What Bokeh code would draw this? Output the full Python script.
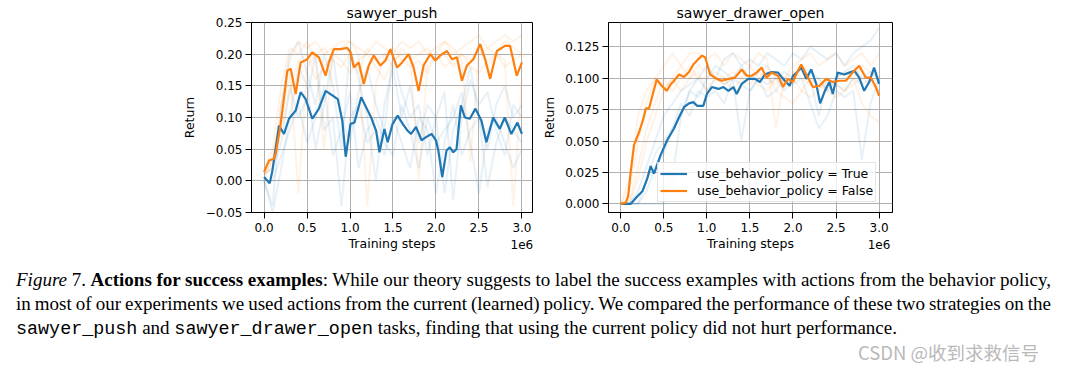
from bokeh.plotting import figure
from bokeh.models import (Legend, LegendItem, CustomJSTickFormatter,
                          FixedTicker, Range1d, Div)
from bokeh.layouts import row, column
from bokeh.embed import file_html
from bokeh.resources import INLINE

# ---------------- data (x in millions of training steps) ----------------
x_ticks = [0.0, 0.5, 1.0, 1.5, 2.0, 2.5, 3.0]
x_offset_text = "1e6"
push_yticks = [-0.05, 0.0, 0.05, 0.10, 0.15, 0.20, 0.25]
drawer_yticks = [0.0, 0.025, 0.05, 0.075, 0.10, 0.125]

push_true_x = [0.0, 0.066, 0.097, 0.174, 0.232, 0.29, 0.368, 0.426, 0.484, 0.561, 0.638, 0.716,
               0.794, 0.858, 0.91, 0.95, 1.006, 1.052, 1.13, 1.188, 1.246, 1.304, 1.342, 1.40,
               1.438, 1.496, 1.554, 1.613, 1.671, 1.71, 1.768, 1.833, 1.884, 1.949, 2.0, 2.027,
               2.073, 2.123, 2.162, 2.201, 2.239, 2.29, 2.336, 2.394, 2.459, 2.529, 2.587, 2.665,
               2.742, 2.80, 2.877, 2.947, 3.0]
push_true_y = [0.006, -0.004, 0.016, 0.087, 0.074, 0.098, 0.111, 0.140, 0.129, 0.098, 0.114, 0.142,
               0.135, 0.129, 0.095, 0.038, 0.090, 0.092, 0.132, 0.116, 0.100, 0.079, 0.045, 0.082,
               0.061, 0.090, 0.103, 0.090, 0.079, 0.074, 0.085, 0.064, 0.069, 0.074, 0.064, 0.048,
               0.006, 0.048, 0.053, 0.045, 0.050, 0.119, 0.100, 0.098, 0.114, 0.095, 0.061, 0.100,
               0.082, 0.100, 0.074, 0.092, 0.074]

push_false_x = [0.0, 0.058, 0.116, 0.136, 0.194, 0.271, 0.31, 0.368, 0.426, 0.503, 0.561, 0.638,
                0.716, 0.754, 0.812, 0.89, 0.967, 1.006, 1.044, 1.102, 1.16, 1.218, 1.276, 1.354,
                1.412, 1.47, 1.548, 1.606, 1.682, 1.74, 1.798, 1.856, 1.934, 1.992, 2.05, 2.128,
                2.186, 2.244, 2.302, 2.36, 2.436, 2.514, 2.572, 2.63, 2.708, 2.804, 2.862, 2.94, 3.0]
push_false_y = [0.014, 0.032, 0.035, 0.043, 0.090, 0.174, 0.177, 0.137, 0.187, 0.192, 0.203, 0.195,
                0.166, 0.187, 0.208, 0.208, 0.210, 0.203, 0.179, 0.187, 0.153, 0.182, 0.198, 0.182,
                0.190, 0.208, 0.179, 0.187, 0.200, 0.179, 0.142, 0.182, 0.200, 0.190, 0.198, 0.205,
                0.192, 0.195, 0.158, 0.182, 0.192, 0.216, 0.192, 0.161, 0.205, 0.213, 0.213, 0.166,
                0.187]

drawer_true_x = [0.0, 0.116, 0.193, 0.251, 0.309, 0.347, 0.386, 0.463, 0.541, 0.618, 0.676, 0.734,
                 0.792, 0.842, 0.888, 0.958, 1.0, 1.058, 1.135, 1.192, 1.25, 1.308, 1.346, 1.404,
                 1.481, 1.558, 1.615, 1.673, 1.75, 1.827, 1.904, 1.962, 2.0, 2.05, 2.096, 2.154,
                 2.212, 2.27, 2.315, 2.365, 2.423, 2.462, 2.519, 2.596, 2.654, 2.712, 2.769, 2.827,
                 2.885, 2.942, 3.0]
drawer_true_y = [0.0, 0.0, 0.006, 0.010, 0.0205, 0.030, 0.024, 0.039, 0.051, 0.060, 0.069, 0.077,
                 0.080, 0.081, 0.078, 0.078, 0.0875, 0.093, 0.0915, 0.093, 0.090, 0.093, 0.0875, 0.0955,
                 0.0995, 0.0995, 0.097, 0.103, 0.105, 0.1045, 0.098, 0.094, 0.102, 0.105, 0.1085, 0.0995,
                 0.107, 0.0955, 0.080, 0.089, 0.097, 0.0875, 0.1045, 0.103, 0.1045, 0.106, 0.1005, 0.090,
                 0.097, 0.1085, 0.0955]

drawer_false_x = [0.0, 0.058, 0.085, 0.116, 0.154, 0.212, 0.263, 0.29, 0.328, 0.367, 0.417, 0.463,
                  0.533, 0.579, 0.618, 0.676, 0.734, 0.792, 0.842, 0.896, 0.945, 0.981, 1.038, 1.115,
                  1.173, 1.25, 1.327, 1.404, 1.462, 1.519, 1.577, 1.635, 1.692, 1.75, 1.827, 1.885,
                  1.942, 2.0, 2.05, 2.096, 2.154, 2.231, 2.308, 2.385, 2.462, 2.538, 2.615, 2.692,
                  2.769, 2.846, 2.904, 2.962, 3.0]
drawer_false_y = [0.0, 0.001, 0.006, 0.026, 0.047, 0.057, 0.068, 0.076, 0.076, 0.086, 0.099, 0.095,
                  0.090, 0.095, 0.098, 0.103, 0.101, 0.105, 0.111, 0.115, 0.118, 0.1165, 0.103, 0.0995,
                  0.098, 0.0995, 0.1005, 0.107, 0.102, 0.102, 0.1045, 0.1085, 0.1005, 0.1045, 0.102, 0.093,
                  0.0995, 0.097, 0.105, 0.111, 0.103, 0.093, 0.094, 0.0995, 0.097, 0.098, 0.098, 0.1045,
                  0.110, 0.1005, 0.1005, 0.093, 0.086]

# individual seeds (faint), sampled every 0.1M steps
seed_x = [0.0, 0.1, 0.2, 0.3, 0.4, 0.5, 0.6, 0.7, 0.8, 0.9, 1.0, 1.1, 1.2, 1.3, 1.4, 1.5,
          1.6, 1.7, 1.8, 1.9, 2.0, 2.1, 2.2, 2.3, 2.4, 2.5, 2.6, 2.7, 2.8, 2.9, 3.0]
push_false_seeds = [
    [0.01, 0.03, 0.12, 0.19, 0.22, 0.21, 0.22, 0.20, 0.21, 0.22, 0.22, 0.21, 0.20, 0.22, 0.21, 0.20,
     0.22, 0.21, 0.22, 0.20, 0.21, 0.22, 0.20, 0.21, 0.22, 0.23, 0.21, 0.22, 0.23, 0.22, 0.23],
    [0.02, 0.05, 0.15, 0.21, 0.20, 0.22, 0.19, 0.05, 0.20, 0.21, 0.22, 0.20, -0.04, 0.15, 0.20, 0.21,
     0.19, 0.20, 0.00, 0.18, 0.20, 0.22, 0.21, 0.19, 0.03, 0.20, 0.21, 0.20, 0.22, 0.21, 0.20],
    [0.00, 0.04, 0.10, 0.17, -0.02, 0.18, 0.20, 0.21, 0.19, 0.18, 0.20, 0.17, 0.21, 0.19, 0.20, 0.18,
     0.21, 0.19, 0.20, 0.21, 0.19, 0.20, 0.18, 0.20, 0.19, 0.21, 0.18, 0.20, 0.19, -0.04, 0.16],
    [0.01, 0.02, 0.08, 0.14, 0.19, 0.20, 0.16, 0.18, 0.20, 0.19, 0.17, 0.19, 0.20, 0.18, 0.16, 0.19,
     0.20, 0.18, 0.19, 0.17, 0.20, 0.18, 0.19, 0.20, 0.18, 0.17, 0.19, 0.20, 0.18, 0.19, 0.20],
]
push_true_seeds = [
    [0.00, -0.04, 0.12, 0.20, 0.22, 0.17, 0.12, 0.20, 0.15, 0.05, 0.21, 0.16, 0.10, 0.00, 0.12, 0.18,
     0.10, 0.15, 0.06, 0.12, 0.10, -0.02, 0.08, 0.12, 0.18, 0.10, 0.05, 0.12, 0.15, 0.10, 0.12],
    [0.01, 0.02, 0.06, 0.15, 0.10, 0.13, 0.20, 0.08, 0.10, -0.04, 0.10, 0.12, 0.06, 0.08, 0.04, 0.10,
     0.06, 0.02, 0.10, 0.08, -0.02, 0.06, 0.12, 0.04, 0.08, 0.10, -0.01, 0.06, 0.10, 0.08, 0.06],
    [0.00, -0.05, 0.02, 0.10, 0.18, 0.15, 0.05, 0.12, 0.20, 0.10, 0.06, 0.14, 0.18, 0.12, 0.08, 0.20,
     0.14, 0.10, 0.12, 0.04, 0.10, 0.14, -0.03, 0.10, 0.16, 0.12, 0.14, 0.08, 0.04, 0.12, 0.10],
    [0.00, 0.00, 0.04, 0.08, 0.12, 0.06, 0.10, 0.15, 0.04, 0.08, 0.14, 0.02, 0.08, 0.10, 0.06, 0.04,
     0.12, 0.08, 0.02, 0.10, 0.06, 0.08, 0.10, 0.14, 0.06, -0.02, 0.08, 0.10, 0.06, 0.02, 0.05],
]
drawer_false_seeds = [
    [0.0, 0.01, 0.05, 0.08, 0.10, 0.11, 0.12, 0.11, 0.12, 0.12, 0.115, 0.12, 0.11, 0.12, 0.115, 0.11,
     0.12, 0.115, 0.06, 0.10, 0.11, 0.115, 0.12, 0.11, 0.115, 0.12, 0.11, 0.115, 0.12, 0.11, 0.12],
    [0.0, 0.02, 0.07, 0.09, 0.10, 0.09, 0.10, 0.11, 0.10, 0.105, 0.09, 0.10, 0.095, 0.10, 0.105, 0.10,
     0.095, 0.09, 0.10, 0.095, 0.10, 0.09, 0.085, 0.09, 0.10, 0.095, 0.09, 0.10, 0.08, 0.07, 0.065],
    [0.0, 0.0, 0.03, 0.06, 0.08, 0.10, 0.09, 0.10, 0.11, 0.10, 0.10, 0.105, 0.10, 0.09, 0.10, 0.095,
     0.105, 0.10, 0.095, 0.10, 0.105, 0.10, 0.095, 0.10, 0.09, 0.10, 0.105, 0.10, 0.11, 0.105, 0.10],
    [0.0, 0.0, 0.02, 0.05, 0.07, 0.09, 0.10, 0.09, 0.10, 0.11, 0.105, 0.10, 0.10, 0.105, 0.10, 0.11,
     0.10, 0.105, 0.09, 0.085, 0.08, 0.09, 0.10, 0.095, 0.09, 0.085, 0.09, 0.095, 0.10, 0.095, 0.09],
]
drawer_true_seeds = [
    [0.0, 0.0, 0.0, 0.0, 0.0, 0.0, 0.02, 0.07, 0.09, 0.10, 0.11, 0.10, 0.115, 0.12, 0.11, 0.115,
     0.11, 0.12, 0.115, 0.11, 0.12, 0.115, 0.125, 0.12, 0.115, 0.12, 0.11, 0.12, 0.125, 0.13, 0.14],
    [0.0, 0.0, 0.01, 0.03, 0.05, 0.07, 0.08, 0.09, 0.095, 0.10, 0.09, 0.10, 0.095, 0.10, 0.05, 0.09,
     0.10, 0.095, 0.10, 0.09, 0.10, 0.11, 0.10, 0.07, 0.10, 0.095, 0.09, 0.10, 0.095, 0.10, 0.09],
    [0.0, 0.0, 0.0, 0.02, 0.04, 0.05, 0.06, 0.08, 0.07, 0.09, 0.085, 0.09, 0.08, 0.10, 0.095, 0.09,
     0.10, 0.085, 0.09, 0.10, 0.095, 0.10, 0.08, 0.06, 0.07, 0.09, 0.085, 0.09, 0.035, 0.08, 0.10],
    [0.0, 0.0, 0.0, 0.01, 0.03, 0.04, 0.06, 0.07, 0.09, 0.085, 0.10, 0.11, 0.105, 0.10, 0.11, 0.10,
     0.105, 0.11, 0.10, 0.105, 0.10, 0.11, 0.105, 0.10, 0.09, 0.10, 0.105, 0.11, 0.10, 0.105, 0.10],
]
legend_labels = ["use_behavior_policy = True", "use_behavior_policy = False"]
titles = ["sawyer_push", "sawyer_drawer_open"]

BLUE = "#1f77b4"
ORANGE = "#ff7f0e"
FONT = "DejaVu Sans"


def make_panel(title, xr, yr, yticks, ydigits, fw, left, right, ylabel_standoff):
    p = figure(output_backend="svg", toolbar_location=None,
               frame_width=fw, frame_height=190,
               min_border_left=left, min_border_right=right,
               min_border_top=22, min_border_bottom=44,
               x_range=Range1d(*xr), y_range=Range1d(*yr))
    p.background_fill_color = "white"
    p.border_fill_color = "white"
    p.outline_line_color = "black"
    p.outline_line_width = 1
    p.title.text = title
    p.title.align = "center"
    p.title.text_font = FONT
    p.title.text_font_size = "14px"
    p.title.text_font_style = "normal"
    p.title.text_color = "black"
    p.title.standoff = 4
    for ax in (p.xaxis[0], p.yaxis[0]):
        ax.axis_line_color = "black"
        ax.major_tick_line_color = "black"
        ax.major_tick_out = 6
        ax.major_tick_in = 0
        ax.minor_tick_line_color = None
        ax.major_label_text_font = FONT
        ax.major_label_text_font_size = "12px"
        ax.major_label_text_color = "black"
        ax.axis_label_text_font = FONT
        ax.axis_label_text_font_size = "12.5px"
        ax.axis_label_text_font_style = "normal"
        ax.axis_label_text_color = "black"
    p.xaxis.ticker = FixedTicker(ticks=x_ticks)
    p.yaxis.ticker = FixedTicker(ticks=yticks)
    # the last x tick label carries the matplotlib-style offset text underneath
    p.xaxis.formatter = CustomJSTickFormatter(
        args=dict(last=x_ticks[-1], off=x_offset_text),
        code="var s = tick.toFixed(1); if (Math.abs(tick - last) < 1e-9) { s = s + '\\n' + off; } return s;")
    p.xaxis.major_label_text_line_height = 1.25
    p.yaxis.formatter = CustomJSTickFormatter(
        code="return (tick < -1e-9 ? '\\u2212' : '') + Math.abs(tick).toFixed(%d);" % ydigits)
    p.xaxis.major_label_standoff = 2
    p.yaxis.major_label_standoff = 3
    p.xaxis.axis_label = "Training steps"
    p.yaxis.axis_label = "Return"
    p.xaxis.axis_label_standoff = -19
    p.yaxis.axis_label_standoff = ylabel_standoff
    p.grid.grid_line_color = "#b0b0b0"
    p.grid.grid_line_width = 1
    return p


p1 = make_panel(titles[0], (-0.146, 3.123), (-0.05, 0.25), push_yticks, 2, 281, 251, 5, 6)
for s in push_true_seeds:
    p1.line(seed_x, s, line_color=BLUE, line_alpha=0.1, line_width=2)
for s in push_false_seeds:
    p1.line(seed_x, s, line_color=ORANGE, line_alpha=0.1, line_width=2)
p1.line(push_true_x, push_true_y, line_color=BLUE, line_width=2.2)
p1.line(push_false_x, push_false_y, line_color=ORANGE, line_width=2.2)

p2 = make_panel(titles[1], (-0.143, 3.156), (-0.0069, 0.1444), drawer_yticks, 3, 284, 71, 10, 5)
for s in drawer_true_seeds:
    p2.line(seed_x, s, line_color=BLUE, line_alpha=0.1, line_width=2)
for s in drawer_false_seeds:
    p2.line(seed_x, s, line_color=ORANGE, line_alpha=0.1, line_width=2)
r_true = p2.line(drawer_true_x, drawer_true_y, line_color=BLUE, line_width=2.2)
r_false = p2.line(drawer_false_x, drawer_false_y, line_color=ORANGE, line_width=2.2)

legend = Legend(items=[LegendItem(label=legend_labels[0], renderers=[r_true]),
                       LegendItem(label=legend_labels[1], renderers=[r_false])],
                location=(49, 10), padding=2, spacing=0, margin=0,
                glyph_width=27, glyph_height=17, label_height=17, label_standoff=10,
                label_text_font=FONT, label_text_font_size="12.5px", label_text_color="black",
                border_line_color="#cccccc", border_line_width=1,
                background_fill_color="white", background_fill_alpha=0.8)
p2.add_layout(legend)

line1 = ("<i>Figure</i> 7. <b>Actions for success examples</b>: While our theory suggests to label "
         "the success examples with actions from the behavior policy,")
line2 = ("in most of our experiments we used actions from the current (learned) policy. "
         "We compared the performance of these two strategies on the")
line3 = ("<span style=\"font-family:'Liberation Mono';font-size:18.4px;\">sawyer_push</span> and "
         "<span style=\"font-family:'Liberation Mono';font-size:18.4px;\">sawyer_drawer_open</span> "
         "tasks, finding that using the current policy did not hurt performance.")
watermark = "CSDN @收到求救信号"

just = "text-align:justify;text-align-last:justify;white-space:nowrap;word-spacing:-3px;"
html = (
    "<div style=\"position:relative;width:1060px;height:110px;font-family:'Liberation Serif';"
    "font-size:19px;color:#000;\">"
    "<div style=\"position:absolute;left:11px;top:7px;width:1035px;line-height:23.8px;\">"
    f"<div style=\"{just}\">{line1}</div>"
    f"<div style=\"{just}\">{line2}</div>"
    f"<div style=\"white-space:nowrap;\">{line3}</div>"
    "</div>"
    "<div style=\"position:absolute;left:853px;top:81px;font-family:'Noto Sans CJK SC';"
    f"font-size:18.5px;line-height:20px;color:#b9b9b9;white-space:nowrap;\">{watermark}</div>"
    "</div>"
)
div = Div(text=html, width=1060, height=110)

layout = column(row(p1, p2), div)
open("out.html", "w").write(file_html(layout, INLINE))
